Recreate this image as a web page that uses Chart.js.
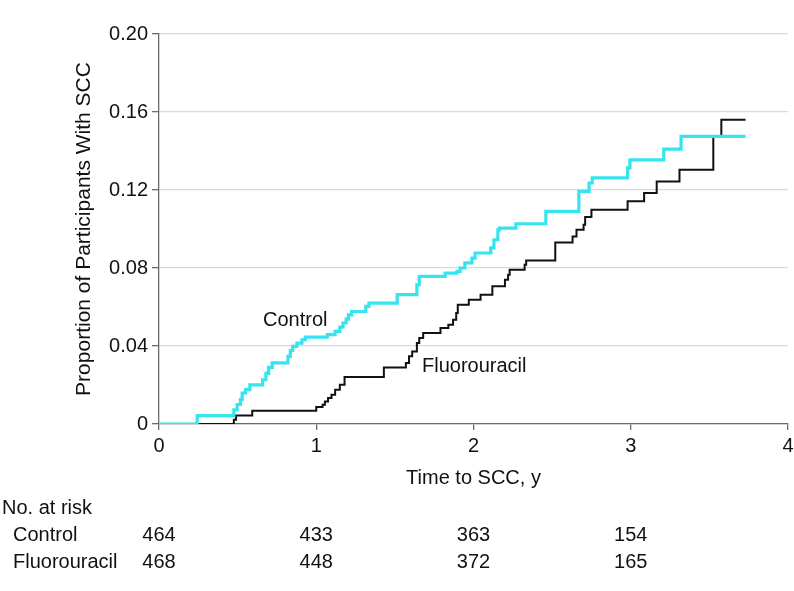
<!DOCTYPE html>
<html>
<head>
<meta charset="utf-8">
<script src="https://cdn.jsdelivr.net/npm/chart.js@4"></script>
<style>
  html, body { margin: 0; padding: 0; background: #fff; }
  #wrap { width: 794px; height: 591px; }
</style>
</head>
<body>
<div id="wrap"><canvas id="kmChart" width="794" height="591"></canvas></div>
<script>
// step times (years) and cumulative proportion with SCC
const ctrlTime = [0, 0.243, 0.476, 0.497, 0.518, 0.529, 0.55, 0.578, 0.659, 0.68, 0.697, 0.72,
  0.82, 0.835, 0.85, 0.877, 0.909, 0.93, 1.07, 1.12, 1.15, 1.17, 1.19, 1.205, 1.225, 1.315, 1.335,
  1.515, 1.64, 1.655, 1.82, 1.895, 1.915, 1.945, 1.99, 2.01, 2.11, 2.13, 2.155, 2.165, 2.27, 2.46,
  2.67, 2.735, 2.755, 2.98, 2.995, 3.21, 3.32, 3.73];
const ctrlProp = [0, 0.0043, 0.0073, 0.01, 0.0125, 0.0159, 0.0176, 0.0201, 0.0227, 0.026, 0.029, 0.0313,
  0.0347, 0.0377, 0.0398, 0.0415, 0.0432, 0.0446, 0.0458, 0.0475, 0.0497, 0.0518, 0.0538, 0.056, 0.0577, 0.0603, 0.062,
  0.0663, 0.0714, 0.0757, 0.0774, 0.0783, 0.08, 0.0826, 0.0851, 0.0877, 0.0903, 0.0945, 0.0996, 0.1005, 0.1027, 0.109,
  0.1193, 0.1236, 0.1262, 0.1313, 0.1355, 0.141, 0.1475, 0.1475];

const fluTime = [0, 0.476, 0.49, 0.593, 1.0, 1.04, 1.055, 1.075, 1.097, 1.12, 1.15, 1.18, 1.43,
  1.57, 1.59, 1.61, 1.64, 1.655, 1.68, 1.79, 1.84, 1.87, 1.89, 1.9, 1.97, 2.045, 2.12, 2.2, 2.22, 2.23,
  2.325, 2.335, 2.52, 2.63, 2.655, 2.7, 2.71, 2.75, 2.98, 3.085, 3.165, 3.31, 3.525, 3.576, 3.73];
const fluProp = [0, 0.0022, 0.0043, 0.0068, 0.0087, 0.0099, 0.0116, 0.0133, 0.015, 0.0176, 0.0201, 0.0241, 0.029,
  0.0313, 0.0347, 0.0372, 0.0415, 0.0441, 0.0467, 0.0492, 0.0509, 0.0535, 0.0569, 0.0612, 0.0637, 0.0663, 0.0706, 0.074, 0.0766, 0.0791,
  0.0817, 0.0839, 0.0931, 0.0962, 0.0996, 0.1022, 0.1061, 0.1099, 0.1142, 0.1185, 0.1244, 0.1304, 0.1475, 0.156, 0.156];

// number at risk table
const riskTimes = [0, 1, 2, 3];
const riskGroups = ["Control", "Fluorouracil"];
const riskControl = [464, 433, 363, 154];
const riskFluorouracil = [468, 448, 372, 165];

const xTicks = [0, 1, 2, 3, 4];
const yTicks = [0, 0.04, 0.08, 0.12, 0.16, 0.2];

const FONT = "'Liberation Sans', Arial, sans-serif";
const AXIS_GRAY = "#6b6b6b";

function toPoints(ts, vs) {
  return ts.map((t, i) => ({ x: t, y: vs[i] }));
}

const tablePlugin = {
  id: "riskTable",
  afterDraw(chart) {
    const c = chart.ctx;
    const xs = chart.scales.x;
    c.save();
    c.fillStyle = "#111";
    c.font = "20px " + FONT;
    c.textBaseline = "middle";

    // curve labels
    c.textAlign = "left";
    c.fillText("Control", 263, 320);
    c.fillText("Fluorouracil", 422, 366);

    // No. at risk
    c.fillText("No. at risk", 2, 508);
    const rows = [riskControl, riskFluorouracil];
    const rowY = [535, 562];
    for (let r = 0; r < rows.length; r++) {
      c.textAlign = "left";
      c.fillText(riskGroups[r], 13, rowY[r]);
      c.textAlign = "center";
      for (let i = 0; i < riskTimes.length; i++) {
        c.fillText(String(rows[r][i]), xs.getPixelForValue(riskTimes[i]), rowY[r]);
      }
    }
    c.restore();
  },
};

new Chart(document.getElementById("kmChart"), {
  type: "line",
  data: {
    datasets: [
      {
        label: "Control",
        data: toPoints(ctrlTime, ctrlProp),
        borderColor: "#35e4ef",
        borderWidth: 3.2,
        stepped: "before",
        pointRadius: 0,
        fill: false,
      },
      {
        label: "Fluorouracil",
        data: toPoints(fluTime, fluProp),
        borderColor: "#111111",
        borderWidth: 2,
        stepped: "before",
        pointRadius: 0,
        fill: false,
      },
    ],
  },
  options: {
    responsive: false,
    animation: false,
    layout: { padding: { left: 0, right: 0, top: 34, bottom: 0 } },
    plugins: {
      legend: { display: false },
      tooltip: { enabled: false },
    },
    scales: {
      x: {
        type: "linear",
        min: 0,
        max: 4,
        afterBuildTicks: (s) => { s.ticks = xTicks.map((v) => ({ value: v })); },
        afterFit: (s) => { s.height = 167; s.paddingRight = 6; },
        border: { display: true, color: AXIS_GRAY, width: 1.3 },
        grid: { drawOnChartArea: false, drawTicks: true, tickLength: 6, tickColor: AXIS_GRAY, lineWidth: 1.3 },
        ticks: { color: "#111", padding: 4, font: { family: FONT, size: 20 } },
        title: {
          display: true,
          text: "Time to SCC, y",
          color: "#111",
          font: { family: FONT, size: 20 },
          padding: { top: 0, bottom: 101 },
        },
      },
      y: {
        min: 0,
        max: 0.2,
        afterBuildTicks: (s) => { s.ticks = yTicks.map((v) => ({ value: v })); },
        afterFit: (s) => { s.width = 159; },
        border: { display: true, color: AXIS_GRAY, width: 1.3 },
        grid: { color: "#d9d9d9", lineWidth: 1.3, tickLength: 7, tickColor: AXIS_GRAY },
        ticks: {
          color: "#111",
          padding: 4,
          font: { family: FONT, size: 20 },
          callback: (v) => (v === 0 ? "0" : v.toFixed(2)),
        },
        title: {
          display: true,
          text: "Proportion of Participants With SCC",
          color: "#111",
          font: { family: FONT, size: 21 },
          padding: { top: 72, bottom: 0 },
        },
      },
    },
  },
  plugins: [tablePlugin],
});
</script>
</body>
</html>
